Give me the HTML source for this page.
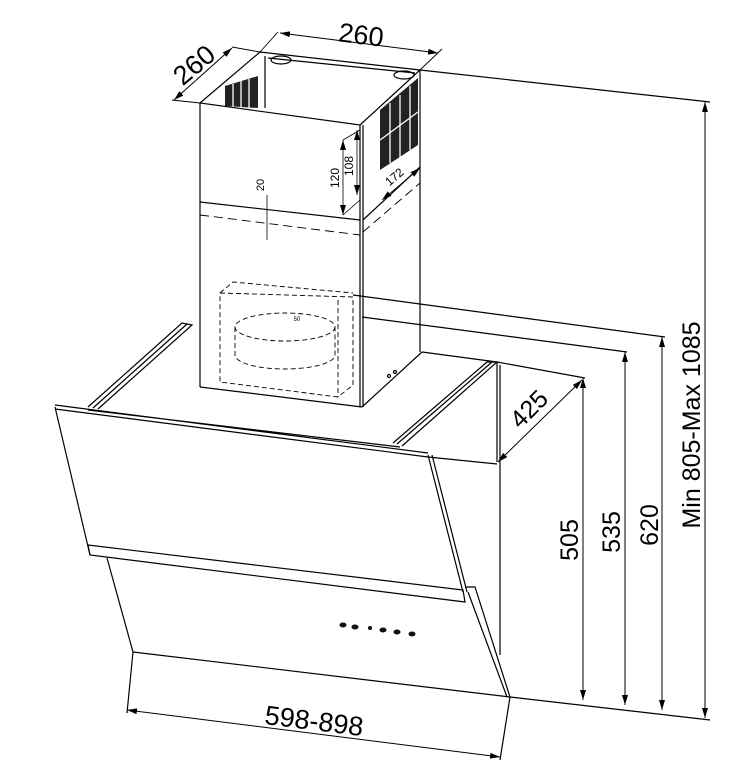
<!DOCTYPE html>
<html><head><meta charset="utf-8"><style>
html,body{margin:0;padding:0;background:#fff}
svg{display:block}
text{font-family:"Liberation Sans",sans-serif;fill:#000}
</style></head><body>
<svg width="732" height="765" viewBox="0 0 732 765" xmlns="http://www.w3.org/2000/svg">
<defs>
<marker id="a" viewBox="0 0 10 6" refX="10" refY="3" markerWidth="10" markerHeight="6" orient="auto-start-reverse" markerUnits="userSpaceOnUse"><path d="M0,0L10,3L0,6z" fill="#000"/></marker>
</defs>
<!-- vents -->
<g fill="#222">
<polygon points="225,86 258,76 258,108 225,106"/>
<polygon points="380,110 418,78 418,145 380,170"/>
</g>
<g stroke="#fff" stroke-width="1.3">
<line x1="233" y1="84" x2="233" y2="107"/><line x1="241" y1="81" x2="241" y2="107"/><line x1="249" y1="79" x2="249" y2="108"/>
<line x1="390" y1="103" x2="390" y2="163"/><line x1="400" y1="95" x2="400" y2="157"/><line x1="410" y1="86" x2="410" y2="150"/>
<line x1="380" y1="140" x2="418" y2="112"/>
</g>
<g stroke="#000" stroke-width="1.2" fill="none">
<!-- upper chimney -->
<path d="M200,103 L260,52 L420,70 L360,125 Z" fill="none"/>
<line x1="265" y1="56" x2="265" y2="108"/>
<line x1="268" y1="58" x2="415" y2="73"/>
<line x1="200" y1="103" x2="200" y2="387"/>
<line x1="360" y1="125" x2="360" y2="407"/>
<line x1="363" y1="125" x2="363" y2="407"/>
<line x1="420" y1="70" x2="420" y2="352"/>
<line x1="200" y1="202" x2="360" y2="220"/>
<line x1="363" y1="220" x2="420" y2="167"/>
<path d="M200,215 L360,235 M363,232 L420,183" stroke-dasharray="9,5" stroke-width="0.9"/>
<ellipse cx="281" cy="60" rx="10" ry="4"/>
<ellipse cx="404" cy="75" rx="10" ry="4"/>
<line x1="200" y1="387" x2="362" y2="407"/>
<line x1="362" y1="407" x2="422" y2="352"/>
<g stroke-dasharray="5,3" stroke-width="0.9">
<path d="M220,293 L353,297 L353,385 L338,397 L220,382 Z"/>
<path d="M220,293 L233,282 L353,293"/>
<line x1="338" y1="300" x2="338" y2="397"/>
<ellipse cx="285" cy="327" rx="50" ry="14"/>
<path d="M235,327 L235,355 A50,14 0 0 0 335,355 L335,327"/>
</g>
<circle cx="389" cy="376" r="1.5"/><circle cx="395" cy="372" r="1.5"/>
<path d="M88,407 L182,323 L192,325 L98,409"/>
<line x1="93" y1="408" x2="187" y2="324"/>
<path d="M393,443 L487,362 L497,362 L402,446"/>
<line x1="397" y1="444" x2="492" y2="362"/>
<line x1="422" y1="352" x2="497" y2="362"/>
<path d="M55,405 L428,453 M55,409 L428,457 M88,410 L400,447" />
<line x1="497" y1="362" x2="497" y2="462"/>
<line x1="428" y1="457" x2="497" y2="464"/>
<line x1="500" y1="365" x2="500" y2="655"/>
<line x1="55" y1="407" x2="90" y2="555"/>
<path d="M428,455 L463,592 M432,455 L467,592"/>
<path d="M88,545 L463,590 L465,602 L90,555 Z"/>
<path d="M107,558 L133,652"/>
<path d="M465,587 L475,587 L510,697 M468,592 L507,697"/>
<line x1="133" y1="652" x2="510" y2="697"/>
<line x1="510" y1="697" x2="710" y2="720"/>
<line x1="420" y1="70" x2="710" y2="102"/>
<line x1="353" y1="295" x2="665" y2="337"/>
<line x1="362" y1="317" x2="627" y2="352"/>
<line x1="497" y1="362" x2="585" y2="378"/>
<line x1="583" y1="378" x2="583" y2="700" stroke-width="1" marker-start="url(#a)" marker-end="url(#a)"/>
<line x1="625" y1="352" x2="625" y2="705" stroke-width="1" marker-start="url(#a)" marker-end="url(#a)"/>
<line x1="662" y1="337" x2="662" y2="710" stroke-width="1" marker-start="url(#a)" marker-end="url(#a)"/>
<line x1="705" y1="102" x2="705" y2="718" stroke-width="1" marker-start="url(#a)" marker-end="url(#a)"/>
<line x1="498" y1="462" x2="582" y2="380" stroke-width="1" marker-start="url(#a)" marker-end="url(#a)"/>
<line x1="133" y1="652" x2="127" y2="713"/>
<line x1="510" y1="697" x2="500" y2="760"/>
<line x1="127" y1="710" x2="500" y2="757" stroke-width="1" marker-start="url(#a)" marker-end="url(#a)"/>
<line x1="260" y1="52" x2="278" y2="32" stroke-width="0.9"/>
<line x1="420" y1="70" x2="442" y2="49" stroke-width="0.9"/>
<line x1="280" y1="33" x2="438" y2="53" stroke-width="1" marker-start="url(#a)" marker-end="url(#a)"/>
<line x1="200" y1="103" x2="172" y2="100" stroke-width="0.9"/>
<line x1="260" y1="52" x2="232" y2="47" stroke-width="0.9"/>
<line x1="174" y1="100" x2="232" y2="48" stroke-width="1" marker-start="url(#a)" marker-end="url(#a)"/>
<line x1="343" y1="140" x2="343" y2="215" stroke-width="0.8" marker-start="url(#a)" marker-end="url(#a)"/>
<line x1="357" y1="130" x2="357" y2="195" stroke-width="0.8" marker-start="url(#a)" marker-end="url(#a)"/>
<line x1="343" y1="215" x2="360" y2="200" stroke-width="0.8"/>
<line x1="343" y1="140" x2="360" y2="130" stroke-width="0.8"/>
<line x1="267" y1="195" x2="267" y2="240" stroke-width="0.8"/>
<line x1="382" y1="200" x2="420" y2="168" stroke-width="0.8" marker-start="url(#a)" marker-end="url(#a)"/>
</g>
<g fill="#111">
<ellipse cx="343" cy="625" rx="3.5" ry="2.5"/><ellipse cx="355" cy="627" rx="3.5" ry="2.5"/><circle cx="370" cy="628" r="2"/>
<ellipse cx="383" cy="630" rx="3.5" ry="2.5"/><ellipse cx="397" cy="632" rx="3.5" ry="2.5"/><ellipse cx="412" cy="634" rx="3.5" ry="2.5"/>
</g>
<text x="360" y="44" font-size="27" text-anchor="middle" transform="rotate(7 360 44)">260</text>
<text x="200" y="72" font-size="27" text-anchor="middle" transform="rotate(-40 200 72)">260</text>
<text x="535" y="415" font-size="25" text-anchor="middle" transform="rotate(-45 535 415)">425</text>
<text x="578" y="540" font-size="25" text-anchor="middle" transform="rotate(-90 578 540)">505</text>
<text x="620" y="532" font-size="25" text-anchor="middle" transform="rotate(-90 620 532)">535</text>
<text x="658" y="525" font-size="25" text-anchor="middle" transform="rotate(-90 658 525)">620</text>
<text x="700" y="425" font-size="25" text-anchor="middle" transform="rotate(-90 700 425)">Min 805-Max 1085</text>
<text x="313" y="730" font-size="27" text-anchor="middle" transform="rotate(7 313 730)">598-898</text>
<text x="339" y="178" font-size="12" text-anchor="middle" transform="rotate(-90 339 178)">120</text>
<text x="353" y="166" font-size="12" text-anchor="middle" transform="rotate(-90 353 166)">108</text>
<text x="264" y="185" font-size="11" text-anchor="middle" transform="rotate(-90 264 185)">20</text>
<text x="397" y="180" font-size="12" text-anchor="middle" transform="rotate(-40 397 180)">172</text>
<text x="297" y="321" font-size="6" text-anchor="middle">50</text>
</svg>
</body></html>
